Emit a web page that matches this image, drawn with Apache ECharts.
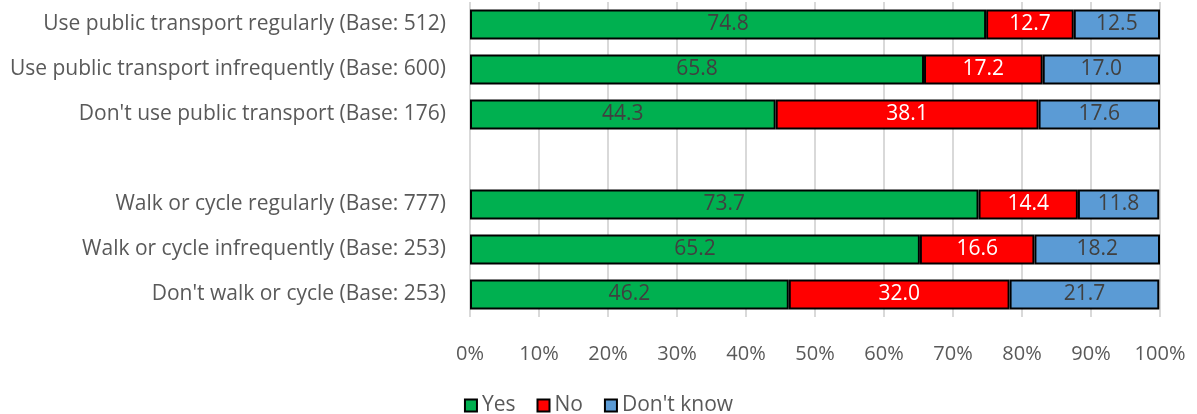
<!DOCTYPE html>
<html>
<head>
<meta charset="utf-8">
<script src="https://cdn.jsdelivr.net/npm/echarts@6/dist/echarts.min.js"></script>
<style>
  html, body { margin: 0; padding: 0; background: #fff; }
  #main { width: 1197px; height: 414px; }
</style>
</head>
<body>
<div id="main"></div>
<script>
// categories, the empty one is the gap between the two groups
const categories = [
  'Use public transport regularly (Base: 512)',
  'Use public transport infrequently (Base: 600)',
  "Don't use public transport (Base: 176)",
  '',
  'Walk or cycle regularly (Base: 777)',
  'Walk or cycle infrequently (Base: 253)',
  "Don't walk or cycle (Base: 253)"
];
const yesVals = [74.8, 65.8, 44.3, null, 73.7, 65.2, 46.2];
const noVals = [12.7, 17.2, 38.1, null, 14.4, 16.6, 32.0];
const dkVals = [12.5, 17.0, 17.6, null, 11.8, 18.2, 21.7];
const xTicks = [0, 10, 20, 30, 40, 50, 60, 70, 80, 90, 100];

const font = 'Open Sans';

function barSeries(name, data, color, labelColor) {
  return {
    name: name,
    type: 'bar',
    stack: 'total',
    data: data,
    barWidth: 30,
    itemStyle: { color: color, borderColor: '#000', borderWidth: 2 },
    label: {
      show: true,
      position: 'inside',
      color: labelColor,
      fontFamily: font,
      fontSize: 21,
      formatter: p => p.value == null ? '' : Number(p.value).toFixed(1)
    }
  };
}

let myChart = echarts.init(document.getElementById('main'));
myChart.setOption({
  animation: false,
  grid: { left: 470, right: 37, top: 2, height: 315, containLabel: false },
  xAxis: {
    type: 'value',
    min: xTicks[0],
    max: xTicks[xTicks.length - 1],
    interval: 10,
    axisLine: { show: false },
    axisTick: { show: false },
    splitLine: { show: true, lineStyle: { color: '#d9d9d9', width: 2 } },
    axisLabel: {
      formatter: '{value}%',
      color: '#595959',
      fontFamily: font,
      fontSize: 20,
      margin: 27
    }
  },
  yAxis: {
    type: 'category',
    data: categories,
    inverse: true,
    axisLine: { show: false },
    axisTick: { show: false },
    axisLabel: {
      color: '#595959',
      fontFamily: font,
      fontSize: 21,
      margin: 24
    }
  },
  legend: {
    data: ['Yes', 'No', "Don't know"],
    top: 390,
    left: 'center',
    itemWidth: 12,
    itemHeight: 12,
    itemGap: 21,
    icon: 'rect',
    textStyle: { color: '#595959', fontFamily: font, fontSize: 21 },
    itemStyle: { borderColor: '#000', borderWidth: 2 }
  },
  series: [
    barSeries('Yes', yesVals, '#00B050', '#404040'),
    barSeries('No', noVals, '#FF0000', '#ffffff'),
    barSeries("Don't know", dkVals, '#5B9BD5', '#404040')
  ]
});
</script>
</body>
</html>
